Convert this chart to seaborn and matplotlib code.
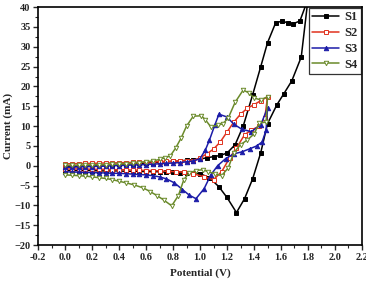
import seaborn as sns
import matplotlib.pyplot as plt
import pandas as pd
from matplotlib.ticker import MultipleLocator

sns.set_theme(style="ticks")
plt.rcParams["font.family"] = ["Liberation Serif", "DejaVu Serif"]
plt.rcParams["font.weight"] = "bold"

# cyclic voltammograms, points in scan order (forward then reverse)
s1_v = [0.0, 0.05, 0.1, 0.15, 0.2, 0.25, 0.3, 0.35, 0.4, 0.45, 0.5, 0.55, 0.6, 0.65, 0.7, 0.75, 0.8, 0.85, 0.9, 0.95,
        1.0, 1.05, 1.1, 1.15, 1.2, 1.26, 1.32, 1.39, 1.45, 1.5, 1.56, 1.61, 1.65, 1.69, 1.74, 1.8,
        1.75, 1.68, 1.62, 1.57, 1.5, 1.45, 1.39, 1.33, 1.27, 1.2, 1.14, 1.07, 1.0, 0.95, 0.9, 0.85, 0.8, 0.75,
        0.7, 0.65, 0.6, 0.55, 0.5, 0.45, 0.4, 0.35, 0.3, 0.25, 0.2, 0.15, 0.1, 0.05, 0.0]
s1_i = [-0.3, -0.2, -0.1, 0.0, 0.1, 0.15, 0.2, 0.3, 0.35, 0.4, 0.5, 0.6, 0.7, 0.8, 0.9, 1.0, 1.1, 1.2, 1.4, 1.5,
        1.7, 2.0, 2.3, 2.6, 3.2, 5.3, 10.0, 17.9, 25.0, 31.0, 36.0, 36.5, 36.0, 35.8, 36.5, 42.0,
        27.4, 21.4, 18.1, 15.4, 10.6, 3.3, -3.3, -8.3, -11.8, -8.0, -5.3, -3.0, -2.0, -1.8, -1.7, -1.7, -1.6, -1.6,
        -1.5, -1.5, -1.5, -1.4, -1.4, -1.4, -1.3, -1.3, -1.3, -1.3, -1.2, -1.2, -1.2, -1.2, -1.2]

s2_v = [0.0, 0.05, 0.1, 0.15, 0.2, 0.25, 0.3, 0.35, 0.4, 0.45, 0.5, 0.55, 0.6, 0.65, 0.7, 0.75, 0.8, 0.85, 0.9, 0.95,
        1.0, 1.05, 1.1, 1.15, 1.2, 1.25, 1.3, 1.35, 1.4, 1.45, 1.5,
        1.48, 1.44, 1.38, 1.33, 1.27, 1.22, 1.16, 1.1, 1.03, 0.95, 0.88, 0.82, 0.76, 0.7, 0.65, 0.6, 0.55, 0.5, 0.45,
        0.4, 0.35, 0.3, 0.25, 0.2, 0.15, 0.1, 0.05, 0.0]
s2_i = [0.5, 0.5, 0.55, 0.6, 0.6, 0.65, 0.7, 0.7, 0.75, 0.8, 0.85, 0.9, 0.95, 1.0, 1.05, 1.1, 1.15, 1.2, 1.25, 1.3,
        2.0, 3.0, 4.2, 6.0, 8.5, 11.0, 13.0, 14.5, 15.4, 16.4, 17.4,
        12.0, 10.0, 9.0, 7.8, 4.5, 2.0, -1.5, -3.5, -2.8, -2.0, -1.6, -1.5, -1.4, -1.3, -1.2, -1.2, -1.1, -1.1, -1.0,
        -1.0, -1.0, -0.9, -0.9, -0.9, -0.8, -0.8, -0.8, -0.8]

s3_v = [0.0, 0.05, 0.1, 0.15, 0.2, 0.25, 0.3, 0.35, 0.4, 0.45, 0.5, 0.55, 0.6, 0.65, 0.7, 0.75, 0.8, 0.85, 0.9, 0.95,
        1.0, 1.04, 1.07, 1.11, 1.14, 1.2, 1.25, 1.31, 1.38, 1.45, 1.5,
        1.49, 1.46, 1.42, 1.37, 1.31, 1.25, 1.19, 1.13, 1.08, 1.03, 0.97, 0.92, 0.87, 0.81, 0.75, 0.7, 0.65, 0.6, 0.55,
        0.5, 0.45, 0.4, 0.35, 0.3, 0.25, 0.2, 0.15, 0.1, 0.05, 0.0]
s3_i = [-0.4, -0.35, -0.3, -0.25, -0.2, -0.15, -0.1, 0.0, 0.05, 0.1, 0.2, 0.25, 0.3, 0.4, 0.5, 0.6, 0.7, 0.8, 1.0, 1.2,
        1.8, 4.0, 6.5, 10.3, 13.0, 12.3, 10.5, 9.2, 8.6, 10.3, 14.6,
        9.0, 6.0, 5.0, 4.3, 3.5, 3.0, 1.8, 0.0, -2.3, -5.8, -8.3, -7.4, -6.0, -4.3, -3.3, -2.8, -2.5, -2.3, -2.2,
        -2.1, -2.0, -1.9, -1.9, -1.8, -1.8, -1.7, -1.7, -1.6, -1.6, -1.5]

s4_v = [0.0, 0.05, 0.1, 0.15, 0.2, 0.25, 0.3, 0.35, 0.4, 0.45, 0.5, 0.55, 0.6, 0.65, 0.7, 0.74, 0.78, 0.82, 0.86, 0.9,
        0.95, 1.01, 1.04, 1.08, 1.13, 1.17, 1.21, 1.26, 1.32, 1.36, 1.4, 1.45, 1.5,
        1.49, 1.44, 1.4, 1.35, 1.3, 1.25, 1.21, 1.16, 1.11, 1.06, 1.02, 0.97, 0.92, 0.88, 0.84, 0.79, 0.73, 0.68, 0.63,
        0.58, 0.51, 0.45, 0.4, 0.35, 0.3, 0.25, 0.2, 0.15, 0.1, 0.05, 0.0]
s4_i = [0.1, 0.1, 0.15, 0.2, 0.2, 0.25, 0.3, 0.35, 0.4, 0.5, 0.6, 0.8, 1.0, 1.2, 1.6, 2.0, 2.5, 4.5, 7.0, 10.0,
        12.5, 12.6, 11.6, 9.8, 10.2, 10.6, 12.1, 16.0, 19.1, 18.4, 17.1, 16.6, 17.4,
        11.0, 10.8, 8.0, 6.5, 5.3, 3.3, -0.5, -2.5, -2.0, -1.5, -1.0, -1.2, -1.8, -3.5, -7.5, -10.1, -8.6, -7.5, -6.5,
        -5.6, -4.8, -4.3, -3.9, -3.5, -3.2, -3.0, -2.8, -2.6, -2.5, -2.4, -2.3]

names = ["S1", "S2", "S3", "S4"]
colors = ["#000000", "#e0321e", "#1c1ca8", "#6a8a2a"]
markers = ["s", "s", "^", "v"]
faces = ["#000000", "white", "#1c1ca8", "white"]

series = [(s1_v, s1_i), (s2_v, s2_i), (s3_v, s3_i), (s4_v, s4_i)]

fig = plt.figure(figsize=(3.66, 2.84), dpi=100)
ax = fig.add_axes([0.104, 0.137, 0.885, 0.838])

for name, (v, i), c, m, fc in zip(names, series, colors, markers, faces):
    df = pd.DataFrame({"V": v, "I": i})
    sns.lineplot(data=df, x="V", y="I", sort=False, estimator=None, ax=ax, color=c,
                 marker=m, markersize=3.2, markerfacecolor=fc, markeredgecolor=c,
                 markeredgewidth=0.7, linewidth=1.1, label=name)

ax.set_xlim(-0.2, 2.2)
ax.set_ylim(-20, 40)
ax.xaxis.set_major_locator(MultipleLocator(0.2))
ax.xaxis.set_minor_locator(MultipleLocator(0.1))
ax.yaxis.set_major_locator(MultipleLocator(5))
ax.yaxis.set_minor_locator(MultipleLocator(2.5))
ax.set_xticks(ax.get_xticks())
ax.set_xticklabels([f"{t:.1f}" for t in ax.get_xticks()])
ax.set_xlim(-0.2, 2.2)
ax.tick_params(axis="both", which="major", direction="out", length=3.5, width=1, labelsize=7.5, pad=2)
ax.tick_params(axis="both", which="minor", direction="out", length=2, width=0.8)
for lbl in ax.get_xticklabels() + ax.get_yticklabels():
    lbl.set_fontweight("bold")
for sp in ax.spines.values():
    sp.set_linewidth(1.2)
    sp.set_color("black")

ax.set_xlabel("Potential (V)", fontsize=8, fontweight="bold", labelpad=5)
ax.set_ylabel("Current (mA)", fontsize=8, fontweight="bold", labelpad=1)

leg = ax.legend(loc="upper right", frameon=True, fancybox=False, fontsize=9,
                borderaxespad=0.1, handlelength=2.2, labelspacing=0.3, borderpad=0.25,
                handletextpad=0.4)
leg.get_frame().set_edgecolor("black")
leg.get_frame().set_linewidth(0.9)
for t in leg.get_texts():
    t.set_fontweight("bold")

fig.savefig("out.png", dpi=100)
